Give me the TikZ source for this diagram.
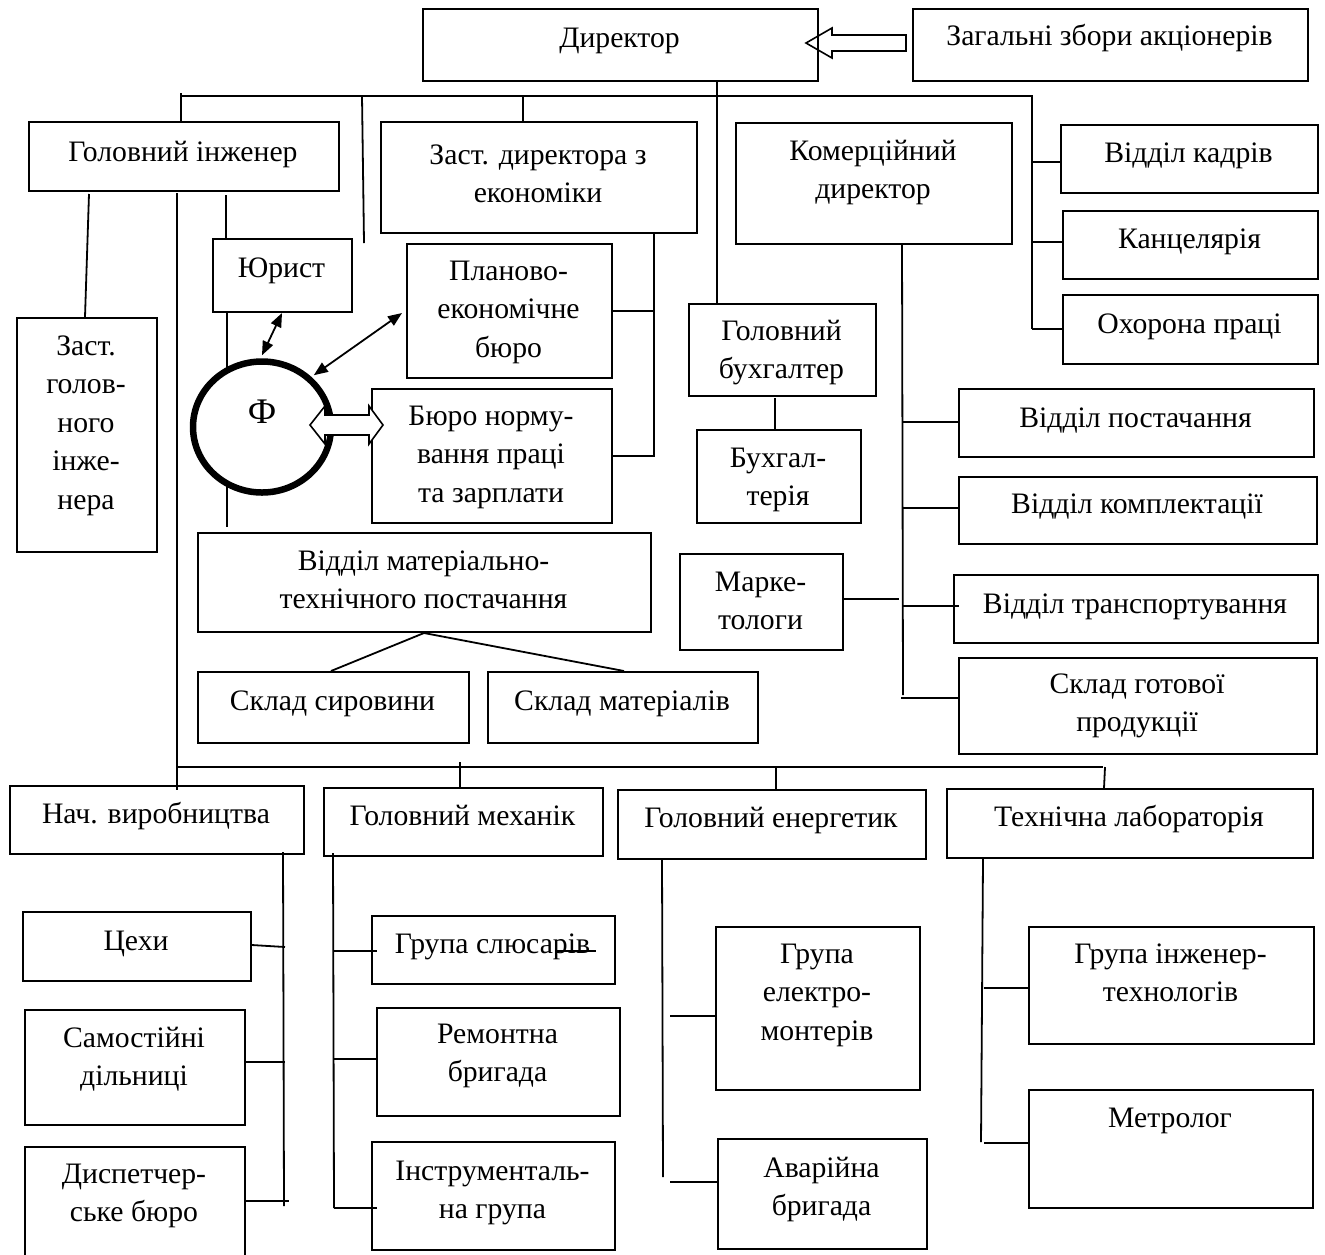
\documentclass[tikz,border=0pt]{standalone}
\usepackage{fontspec}
\setmainfont{Liberation Serif}
\usetikzlibrary{arrows.meta,shapes.geometric,calc}
\newcommand\fsz{\fontsize{14.85pt}{19.25pt}\selectfont}
\newcommand\obox[7]{%
  \node[obx, minimum width={(#4-#2)*0.5pt}, minimum height={(#5-#3)*0.5pt}, anchor=north west] (#1) at (#2,#3) {};
  \node[otx, anchor=north] (#1t) at ({(#2+#4)/2},{#6-26.95}) {\strut #7};}
\begin{document}
\begin{tikzpicture}[x=0.5pt,y=-0.5pt,
  obx/.style={draw, line width=1pt, inner sep=0pt, rectangle},
  otx/.style={inner sep=0pt, align=center, font=\fsz},
  ln/.style={line width=0.9pt},
  dar/.style={line width=0.9pt, {Triangle[length=7pt,width=5.5pt]}-{Triangle[length=7pt,width=5.5pt]}},
  hol/.style={draw, line width=0.8pt, fill=white, line join=miter},
  phic/.style={ellipse, draw, line width=3.25pt, fill=white, minimum width=69pt, minimum height=65.5pt, inner sep=0pt}]
\useasboundingbox (0,0) rectangle (1325,1254);
\clip (0,0) rectangle (1325,1254);
\fill[white] (0,0) rectangle (1325,1254);

% ---- boxes ----
\obox{dir}{422}{8}{817}{80}{47}{Директор}
\obox{zag}{912}{8}{1307}{80}{45}{Загальні збори акціонерів}
\obox{gi}{28}{121}{338}{190}{161}{Головний інженер}
\obox{zde}{380}{121}{696}{232}{164}{Заст. директора з\\економіки}
\obox{kd}{735}{122}{1011}{243}{160}{Комерційний\\директор}
\obox{vk}{1060}{124}{1317}{192}{162}{Відділ кадрів}
\obox{kan}{1062}{210}{1317}{278}{248}{Канцелярія}
\obox{oh}{1062}{294}{1317}{363}{333}{Охорона праці}
\obox{yur}{212}{238}{351}{311}{277}{Юрист}
\obox{plan}{406}{243}{611}{377}{280}{Планово-\\економічне\\бюро}
\obox{zgi}{16}{317}{156}{551}{355}{Заст.\\голов-\\ного\\інже-\\нера}
\obox{gb}{688}{303}{875}{395}{340}{Головний\\бухгалтер}
\obox{bnp}{371}{388}{611}{522}{425}{Бюро норму-\\вання праці\\та зарплати}
\obox{buh}{696}{429}{860}{522}{467}{Бухгал-\\терія}
\obox{vp}{958}{388}{1313}{456}{427}{Відділ постачання}
\obox{vkom}{958}{476}{1316}{543}{513}{Відділ комплектації}
\obox{mark}{679}{553}{842}{649}{591}{Марке-\\тологи}
\obox{vt}{953}{574}{1317}{642}{613}{Відділ транспортування}
\obox{sgp}{958}{657}{1316}{753}{693}{Склад готової\\продукції}
\obox{mtp}{197}{532}{650}{631}{570}{Відділ матеріально-\\технічного постачання}
\obox{ss}{197}{671}{468}{742}{710}{Склад сировини}
\obox{sm}{487}{671}{757}{742}{710}{Склад матеріалів}
\obox{nv}{9}{785}{303}{853}{823}{Нач. виробництва}
\obox{gm}{323}{787}{602}{855}{825}{Головний механік}
\obox{ge}{617}{789}{925}{858}{827}{Головний енергетик}
\obox{tl}{946}{788}{1312}{857}{826}{Технічна лабораторія}
\obox{cehy}{22}{911}{250}{980}{950}{Цехи}
\obox{gs}{371}{915}{614}{983}{953}{Група слюсарів}
\obox{sd}{24}{1009}{244}{1124}{1047}{Самостійні\\дільниці}
\obox{rb}{376}{1007}{619}{1115}{1043}{Ремонтна\\бригада}
\obox{db}{24}{1146}{244}{1270}{1183}{Диспетчер-\\ське бюро}
\obox{ig}{371}{1141}{614}{1249}{1180}{Інструменталь-\\на група}
\obox{gem}{715}{926}{919}{1089}{963}{Група\\електро-\\монтерів}
\obox{git}{1028}{926}{1313}{1043}{963}{Група інженер-\\технологів}
\obox{met}{1028}{1089}{1312}{1207}{1127}{Метролог}
\obox{ab}{717}{1138}{926}{1248}{1177}{Аварійна\\бригада}

% ---- top bus ----
\coordinate (tbL) at (181,96);
\coordinate (tbR) at (1032,96);
\coordinate (fr1) at (364,243);
\draw[ln] (tbL) -- (tbR);
\draw[ln] (181,93) -- (181,0 |- gi.north);
\draw[ln] (362,96) -- (fr1);
\draw[ln] (523,96) -- (523,0 |- zde.north);
\draw[ln] (717,0 |- dir.south) -- (717,0 |- gb.north);
\draw[ln] (1032,95) -- (1032,329);
\draw[ln] (1032,162) -- (vk.west |- 0,162);
\draw[ln] (1032,242) -- (kan.west |- 0,242);
\draw[ln] (1032,329) -- (oh.west |- 0,329);

% ---- chief engineer ----
\draw[ln] (89,194) -- (85,0 |- zgi.north);
\draw[ln] (177,193) -- (177,0 |- nv.north) -- (177,790);
\draw[ln] (226,195) -- (226,0 |- yur.north);
\draw[ln] (227,0 |- yur.south) -- (227,527);

% ---- deputy economics ----
\draw[ln] (654,0 |- zde.south) -- (654,457);
\draw[ln] (plan.east |- 0,311) -- (654,311);
\draw[ln] (bnp.east |- 0,456) -- (654,456);

% ---- commercial ----
\draw[ln] (902,245) -- (903,695);
\draw[ln] (903,422) -- (vp.west |- 0,422);
\draw[ln] (903,508) -- (vkom.west |- 0,508);
\draw[ln] (mark.east |- 0,599) -- (899,599);
\draw[ln] (902,606) -- (959,606);
\draw[ln] (901,698) -- (sgp.west |- 0,698);

% ---- accountant ----
\draw[ln] (775,398) -- (775,0 |- buh.north);

% ---- material supply ----
\draw[ln] (424,0 |- mtp.south) -- (331,0 |- ss.north);
\draw[ln] (424,0 |- mtp.south) -- (624,0 |- sm.north);

% ---- lower bus ----
\coordinate (lbL) at (177,767);
\coordinate (lbR) at (1103,767);
\draw[ln] (lbL) -- (lbR);
\draw[ln] (460,762) -- (460,0 |- gm.north);
\draw[ln] (776,767) -- (776,0 |- ge.north);
\draw[ln] (1105,767) -- (1104,0 |- tl.north);

% ---- production ----
\draw[ln] (283,852) -- (284,1206);
\draw[ln] (cehy.east |- 0,945) -- (285,947);
\draw[ln] (sd.east |- 0,1062) -- (285,1062);
\draw[ln] (db.east |- 0,1201) -- (289,1201);

% ---- mechanic ----
\draw[ln] (333,853) -- (334,1208);
\draw[ln] (333,951) -- (377,951);
\draw[ln] (333,1059) -- (rb.west |- 0,1059);
\draw[ln] (334,1208) -- (377,1208);
\draw[ln] (556,951) -- (596,951);

% ---- energetic ----
\draw[ln] (662,0 |- ge.south) -- (663,1177);
\draw[ln] (670,1016) -- (gem.west |- 0,1016);
\draw[ln] (670,1182) -- (ab.west |- 0,1182);

% ---- lab ----
\draw[ln] (983,0 |- tl.south) -- (981,1142);
\draw[ln] (984,988) -- (git.west |- 0,988);
\draw[ln] (984,1143) -- (met.west |- 0,1143);

% ---- circle F ----
\node[phic] (phi) at (262,427) {};
\node[inner sep=0pt, font=\fontsize{18pt}{20pt}\selectfont, anchor=base] (phit) at (262,423) {Ф};
\draw[dar] (yur.south -| 282,0) -- ($(phi.north)+(0,-3)$);
\draw[dar] (402,313) -- ($(phi.45)+(2,-2)$);

% double hollow arrow F <-> bureau
\draw[hol] (310,425) -- (325,406) -- (325,415) -- (369,415) -- (369,406) -- (383,425)
  -- (369,444) -- (369,435) -- (325,435) -- (325,444) -- cycle;

% hollow arrow from shareholders to director
\draw[hol, fill=none] (806,43) -- (832,28) -- (832,35) -- (906,35) -- (906,51) -- (832,51) -- (832,58) -- cycle;
\end{tikzpicture}
\end{document}
